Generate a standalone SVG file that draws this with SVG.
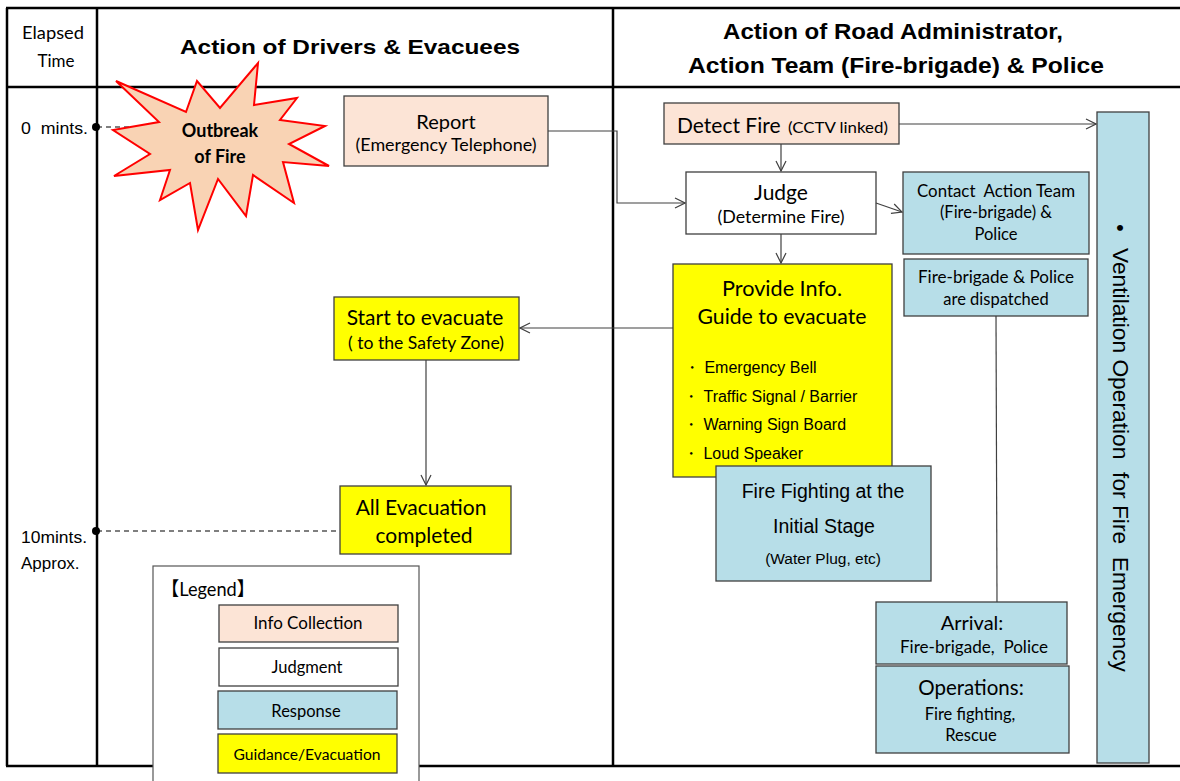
<svg xmlns="http://www.w3.org/2000/svg" width="1180" height="781" viewBox="0 0 1180 781">
  <style>
    .frame { stroke: #000; stroke-width: 2.5; fill: none; }
    .box { stroke: #3f3f3f; stroke-width: 1.3; }
    .peach { fill: #fce4d6; }
    .white { fill: #ffffff; }
    .blue { fill: #b7dee8; }
    .yellow { fill: #ffff00; }
    .link { stroke: #404040; stroke-width: 1.2; fill: none; }
    .dash { stroke: #000; stroke-width: 1.1; stroke-dasharray: 5 4; fill: none; }
    .c { font-family: Lato, "Noto Sans CJK JP", sans-serif; fill: #000; }
    .a { font-family: "Liberation Sans", Arial, sans-serif; fill: #000; }
    .hb { font-family: "Liberation Sans", Arial, sans-serif; font-weight: bold; fill: #000; }
    .mid { text-anchor: middle; }
  </style>
  <defs>
    <marker id="arrow" viewBox="0 0 12 12" refX="11" refY="6" markerWidth="12" markerHeight="12" markerUnits="userSpaceOnUse" orient="auto">
      <path d="M1,1 L11,6 L1,11" fill="none" stroke="#404040" stroke-width="1.2"/>
    </marker>
  </defs>

  <rect width="1180" height="781" fill="#ffffff"/>

  <!-- swimlane frame -->
  <g id="frame">
    <line class="frame" x1="6" y1="8" x2="1180" y2="8"/>
    <line class="frame" x1="6" y1="87" x2="1180" y2="87"/>
    <line class="frame" x1="6" y1="766" x2="1180" y2="766"/>
    <line class="frame" x1="7" y1="8" x2="7" y2="766"/>
    <line class="frame" x1="97" y1="8" x2="97" y2="766"/>
    <line class="frame" x1="613" y1="8" x2="613" y2="766"/>
  </g>

  <!-- lane headers -->
  <g id="headers">
    <text class="c mid" x="53" y="39" font-size="17" textLength="62" lengthAdjust="spacingAndGlyphs">Elapsed</text>
    <text class="c mid" x="56" y="67" font-size="17">Time</text>
    <text class="hb mid" x="350" y="54" font-size="21" textLength="340" lengthAdjust="spacingAndGlyphs">Action of Drivers &amp; Evacuees</text>
    <text class="hb mid" x="893" y="39" font-size="22" textLength="340" lengthAdjust="spacingAndGlyphs">Action of Road Administrator,</text>
    <text class="hb mid" x="896" y="73" font-size="22" textLength="416" lengthAdjust="spacingAndGlyphs">Action Team (Fire-brigade) &amp; Police</text>
  </g>

  <!-- elapsed time marks -->
  <g id="time-marks">
    <text class="a" x="21" y="134" font-size="16" xml:space="preserve" textLength="67" lengthAdjust="spacingAndGlyphs">0  mints.</text>
    <text class="a" x="21" y="543" font-size="17" textLength="66" lengthAdjust="spacingAndGlyphs">10mints.</text>
    <text class="a" x="21" y="569" font-size="17">Approx.</text>
    <line class="dash" x1="97" y1="127" x2="200" y2="127"/>
    <line class="dash" x1="97" y1="531" x2="340" y2="531"/>
    <circle cx="96" cy="127" r="4" fill="#000"/>
    <circle cx="96" cy="531" r="4" fill="#000"/>
  </g>

  <g id="outbreak">
    <polygon points="116,81 186,112 197,81 220,108 258,63 254,105 297,98 280,120 325,126 289,144 329,166 283,162 294,203 253,175 246,216 218,179 198,230 190,183 160,200 170,170 114,176 150,154 113,130 159,122"
             fill="#f9d3b4" stroke="#ff0000" stroke-width="2" stroke-linejoin="miter"/>
    <text class="c mid" x="220" y="137" font-size="18" font-weight="bold">Outbreak</text>
    <text class="c mid" x="220" y="163" font-size="18" font-weight="bold">of Fire</text>
  </g>

  <g id="report">
    <rect class="box peach" x="344" y="96" width="204" height="70"/>
    <text class="c mid" x="446" y="129" font-size="20">Report</text>
    <text class="c mid" x="446" y="151" font-size="16.5" textLength="181" lengthAdjust="spacingAndGlyphs">(Emergency Telephone)</text>
  </g>

  <g id="detect-fire">
    <rect class="box peach" x="664" y="103" width="235" height="41"/>
    <text class="c" x="677" y="133" font-size="21">Detect Fire</text>
    <text class="c" x="788" y="133" font-size="16" textLength="100" lengthAdjust="spacingAndGlyphs">(CCTV linked)</text>
  </g>

  <g id="judge">
    <rect class="box white" x="686" y="172" width="190" height="62"/>
    <text class="c mid" x="781" y="200" font-size="21">Judge</text>
    <text class="c mid" x="781" y="223" font-size="17" textLength="127" lengthAdjust="spacingAndGlyphs">(Determine Fire)</text>
  </g>

  <g id="contact">
    <rect class="box blue" x="903" y="172" width="186" height="82"/>
    <text class="c mid" x="996" y="197" font-size="16.5" xml:space="preserve" textLength="158" lengthAdjust="spacingAndGlyphs">Contact  Action Team</text>
    <text class="c mid" x="996" y="218" font-size="16.5">(Fire-brigade) &amp;</text>
    <text class="c mid" x="996" y="240" font-size="16.5">Police</text>
  </g>

  <g id="dispatched">
    <rect class="box blue" x="904" y="259" width="184" height="57"/>
    <text class="c mid" x="996" y="283" font-size="16.5" textLength="156" lengthAdjust="spacingAndGlyphs">Fire-brigade &amp; Police</text>
    <text class="c mid" x="996" y="305" font-size="16.5">are dispatched</text>
  </g>

  <g id="provide-info">
    <rect class="box yellow" x="673" y="264" width="219" height="213"/>
    <text class="c mid" x="782" y="296" font-size="21" textLength="120" lengthAdjust="spacingAndGlyphs">Provide Info.</text>
    <text class="c mid" x="782" y="324" font-size="21" textLength="169" lengthAdjust="spacingAndGlyphs">Guide to evacuate</text>
    <text class="a" x="684" y="373" font-size="16">・ Emergency Bell</text>
    <text class="a" x="683" y="402" font-size="16">・ Traffic Signal / Barrier</text>
    <text class="a" x="683" y="430" font-size="16">・ Warning Sign Board</text>
    <text class="a" x="683" y="459" font-size="16">・ Loud Speaker</text>
  </g>

  <g id="fire-fighting">
    <rect class="box blue" x="716" y="466" width="215" height="115"/>
    <text class="a mid" x="823" y="498" font-size="19.5">Fire Fighting at the</text>
    <text class="a mid" x="824" y="533" font-size="19.5">Initial Stage</text>
    <text class="a mid" x="823" y="564" font-size="15.5">(Water Plug, etc)</text>
  </g>

  <g id="start-evacuate">
    <rect class="box yellow" x="334" y="297" width="185" height="63"/>
    <text class="c mid" x="425" y="325" font-size="21">Start to evacuate</text>
    <text class="c mid" x="426" y="349" font-size="17" textLength="156" lengthAdjust="spacingAndGlyphs">( to the Safety Zone)</text>
  </g>

  <g id="all-evacuation">
    <rect class="box yellow" x="340" y="486" width="171" height="68"/>
    <text class="c mid" x="421" y="515" font-size="21">All Evacuation</text>
    <text class="c mid" x="424" y="543" font-size="21">completed</text>
  </g>

  <g id="arrival">
    <rect class="box blue" x="876" y="602" width="191" height="62"/>
    <text class="c mid" x="972" y="630" font-size="20">Arrival:</text>
    <text class="c mid" x="974" y="653" font-size="17" xml:space="preserve" textLength="148" lengthAdjust="spacingAndGlyphs">Fire-brigade,  Police</text>
  </g>

  <g id="operations">
    <rect class="box blue" x="876" y="666" width="193" height="87"/>
    <text class="c mid" x="971" y="695" font-size="20.5">Operations:</text>
    <text class="c mid" x="970" y="720" font-size="16.5">Fire fighting,</text>
    <text class="c mid" x="971" y="741" font-size="16.5">Rescue</text>
  </g>

  <g id="ventilation">
    <rect class="box blue" x="1097" y="112" width="52" height="651"/>
    <text class="a" transform="translate(1113,224) rotate(90)" font-size="22">•</text>
    <text class="a" transform="translate(1113,248) rotate(90)" font-size="22" xml:space="preserve" textLength="424" lengthAdjust="spacingAndGlyphs">Ventilation Operation  for Fire  Emergency</text>
  </g>

  <g id="legend">
    <rect x="153" y="566" width="266" height="220" fill="#ffffff" stroke="#555555" stroke-width="1.2"/>
    <text class="c" x="161" y="596" font-size="19" textLength="94" lengthAdjust="spacingAndGlyphs">【Legend】</text>
    <rect class="box peach" x="219" y="605" width="179" height="37"/>
    <text class="c mid" x="308" y="629" font-size="16.5" textLength="109" lengthAdjust="spacingAndGlyphs">Info Collection</text>
    <rect class="box white" x="219" y="648" width="179" height="38"/>
    <text class="c mid" x="307" y="673" font-size="16.5">Judgment</text>
    <rect class="box blue" x="218" y="691" width="179" height="38"/>
    <text class="c mid" x="306" y="717" font-size="16.5">Response</text>
    <rect class="box yellow" x="218" y="734" width="179" height="39"/>
    <text class="c mid" x="307" y="760" font-size="15.5" textLength="147" lengthAdjust="spacingAndGlyphs">Guidance/Evacuation</text>
  </g>

  <!-- flow connectors -->
  <g id="connectors">
    <polyline class="link" points="548,131 617,131 617,203 685,203" marker-end="url(#arrow)"/>
    <line class="link" x1="781" y1="144" x2="781" y2="171" marker-end="url(#arrow)"/>
    <line class="link" x1="899" y1="124" x2="1096" y2="124" marker-end="url(#arrow)"/>
    <line class="link" x1="876" y1="203" x2="902" y2="212" marker-end="url(#arrow)"/>
    <line class="link" x1="781" y1="234" x2="781" y2="263" marker-end="url(#arrow)"/>
    <line class="link" x1="673" y1="328" x2="520" y2="328" marker-end="url(#arrow)"/>
    <line class="link" x1="426" y1="360" x2="426" y2="485" marker-end="url(#arrow)"/>
    <line class="link" x1="996" y1="316" x2="997" y2="602"/>
  </g>
</svg>
